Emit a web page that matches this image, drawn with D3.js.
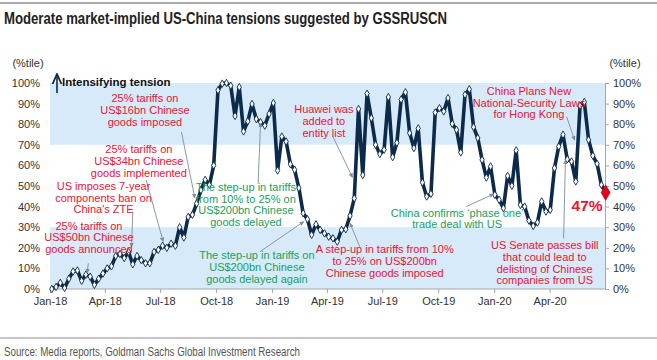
<!DOCTYPE html>
<html>
<head>
<meta charset="utf-8">
<script src="https://cdn.jsdelivr.net/npm/d3@7"></script>
<style>
  html, body { margin: 0; padding: 0; background: #fff; }
  svg { display: block; }
  text { font-family: "Liberation Sans", Arial, sans-serif; }
</style>
</head>
<body>
<svg id="chart" width="657" height="360"></svg>
<script>
// ---------------- DATA ----------------
const startDate = "2018-01-04";        // first weekly observation
const gssruscn = [
  0, 1, 3, 0.5, 5, 8.5, 9, 4, 7, 6,
  2, 5, 7.5, 10, 11, 16, 17, 15, 18, 12,
  16, 14, 12.5, 12.5, 18, 19, 21, 20, 22, 21,
  30, 25, 35, 36, 41.5, 48, 53, 50.5, 60, 96.5,
  99.7, 100, 98.7, 84, 98, 76.5, 81.4, 89.8, 82.5, 81,
  79.3, 85, 90.3, 57.5, 74, 71.6, 60.6, 57.9, 49, 36.8,
  33.9, 26.3, 31.4, 28.7, 27, 25.4, 24.6, 23, 28.7, 29,
  35.5, 44, 87.4, 55.3, 94.8, 83, 70, 65.5, 67.6, 93.2,
  64, 71, 92, 95.5, 75.7, 68.4, 78, 51.7, 44.9, 46.2,
  85.7, 87.8, 86.2, 92.7, 80.2, 77.3, 66.3, 94.3, 97, 78.6,
  73.3, 62.7, 54.1, 59.5, 45.7, 43.3, 39.2, 54.9, 50.1, 67.3,
  40.8, 40, 33.2, 30.6, 32.3, 42.5, 37.6, 38.4, 58.7, 69.2,
  74.9, 63, 61.9, 52.2, 89, 90.8, 72.4, 64.7, 60.8, 50.6,
  46.8
];
const xTickLabels = ["Jan-18","Apr-18","Jul-18","Oct-18","Jan-19","Apr-19","Jul-19","Oct-19","Jan-20","Apr-20"];
const yTicks = [0, 10, 20, 30, 40, 50, 60, 70, 80, 90, 100];
const bands = [[0, 30], [70, 100]];
const lastLabel = "47%";

const titleText = "Moderate market-implied US-China tensions suggested by GSSRUSCN";
const sourceText = "Source: Media reports, Goldman Sachs Global Investment Research";

// annotations: day = days after 2018-01-01, v = percentile level
const annotations = [
  { lines: ["25% tariffs on", "US$16bn Chinese", "goods imposed"], day: 156, v: 90.8, color: "red",
    from: [216.9, 76.2], to: [238.3, 44.2] },
  { lines: ["25% tariffs on", "US$34bn Chinese", "goods implemented"], day: 146, v: 66, color: "red",
    from: [158.9, 52.9], to: [186.2, 23.0] },
  { lines: ["US imposes 7-year", "components ban on", "China's ZTE"], day: 88.7, v: 48.2, color: "red",
    from: [136.9, 37.5], to: [134.2, 20.5] },
  { lines: ["25% tariffs on", "US$50bn Chinese", "goods announced"], day: 64, v: 28.8, color: "red",
    from: [63.6, 12.5], to: [61.6, 7.8] },
  { lines: ["The step-up in tariffs", "from 10% to 25% on", "US$200bn Chinese", "goods delayed"], day: 322, v: 47.7, color: "green",
    from: [342.3, 51.3], to: [346.2, 80.4] },
  { lines: ["The step-up in tariffs on", "US$200bn Chinese", "goods delayed again"], day: 340, v: 14.6, color: "green",
    from: [345, 18.1], to: [417.3, 32.7] },
  { lines: ["A step-up in tariffs from 10%", "to 25% on US$200bn", "Chinese goods imposed"], day: 550, v: 17.5, color: "red",
    from: [509.4, 20.5], to: [493, 31.9] },
  { lines: ["Huawei was", "added to", "entity list"], day: 450, v: 85.3, color: "red",
    from: [465.5, 73.9], to: [497.4, 54.2] },
  { lines: ["China confirms \u2018phase one\u2019", "trade deal with US"], day: 669, v: 35.1, color: "green",
    from: [684.7, 40], to: [729.5, 46.1] },
  { lines: ["China Plans New", "National-Security Laws", "for Hong Kong"], day: 787, v: 94.3, color: "red",
    from: [849, 83.6], to: [862.6, 72.3] },
  { lines: ["US Senate passes bill", "that could lead to", "delisting of Chinese", "companies from US"], day: 813, v: 19.4, color: "red",
    from: [844.6, 24.6], to: [847.9, 62.6] }
];

// ---------------- CHART ----------------
const W = 657, H = 360;
const svg = d3.select("#chart");
const colors = { red: "#ee1133", green: "#17a05d" };
const navy = "#0c2a4a";
const base = new Date(2018, 0, 1);
const dayToDate = d => d3.timeDay.offset(base, d);
const parseDay = d3.timeParse("%Y-%m-%d");
const t0 = parseDay(startDate);
const data = gssruscn.map((v, i) => ({ date: d3.timeDay.offset(t0, 7 * i), v }));

const x = d3.scaleTime().domain([new Date(2018, 0, 1), new Date(2020, 6, 1)]).range([50, 605]);
const y = d3.scaleLinear().domain([0, 100]).range([289, 83]);

// top rule
svg.append("line").attr("x1", 0).attr("x2", W).attr("y1", 3).attr("y2", 3)
  .attr("stroke", "#8c8c8c").attr("stroke-width", 1.5);
// title
svg.append("text").attr("x", 4).attr("y", 24)
  .attr("font-family", "'Liberation Sans Narrow', 'Liberation Sans', Arial, sans-serif")
  .attr("font-weight", "bold").attr("font-size", 16).attr("fill", "#222")
  .attr("textLength", 443).attr("lengthAdjust", "spacingAndGlyphs")
  .text(titleText);

// bands
svg.selectAll("rect.band").data(bands).join("rect").attr("class", "band")
  .attr("x", x.range()[0]).attr("width", x.range()[1] - x.range()[0])
  .attr("y", d => y(d[1])).attr("height", d => y(d[0]) - y(d[1]))
  .attr("fill", "#d7eafa");

// y axes labels
svg.append("text").attr("x", 28).attr("y", 67).attr("text-anchor", "middle")
  .attr("font-size", 11).attr("fill", "#333").text("(%tile)");
svg.append("text").attr("x", 625).attr("y", 67).attr("text-anchor", "middle")
  .attr("font-size", 11).attr("fill", "#333").text("(%tile)");

const fmtPct = d => d + "%";
const leftAxis = d3.axisLeft(y).tickValues(yTicks).tickFormat(fmtPct).tickSize(3).tickPadding(4);
const gl = svg.append("g").attr("transform", "translate(47,0)").call(leftAxis);
gl.select(".domain").remove();
gl.selectAll(".tick line").remove();
gl.selectAll("text").attr("font-family", "'Liberation Sans', Arial, sans-serif").attr("font-size", 11).attr("fill", "#333");

const rightAxis = d3.axisRight(y).tickValues(yTicks).tickFormat(fmtPct).tickSize(4).tickPadding(4);
const gr = svg.append("g").attr("transform", "translate(605,0)").call(rightAxis);
gr.select(".domain").attr("stroke", "#a6a6a6");
gr.selectAll(".tick line").attr("stroke", "#a6a6a6");
gr.selectAll("text").attr("font-family", "'Liberation Sans', Arial, sans-serif").attr("font-size", 11).attr("fill", "#333");

// x axis
const parseTick = d3.timeParse("%b-%y");
const xTicks = xTickLabels.map(parseTick);
const xAxis = d3.axisBottom(x).tickValues(xTicks).tickFormat(d3.timeFormat("%b-%y")).tickSize(4).tickPadding(4);
const gx = svg.append("g").attr("transform", "translate(0,289)").call(xAxis);
gx.select(".domain").attr("stroke", "#a6a6a6").attr("d", "M50,0H605");
gx.selectAll(".tick line").attr("stroke", "#a6a6a6");
gx.selectAll("text").attr("font-family", "'Liberation Sans', Arial, sans-serif").attr("font-size", 11).attr("fill", "#333");

// intensifying tension arrow
const defs = svg.append("defs");
defs.append("marker").attr("id", "ahBlack").attr("viewBox", "0 0 10 10").attr("refX", 9).attr("refY", 5)
  .attr("markerWidth", 7).attr("markerHeight", 7).attr("orient", "auto-start-reverse")
  .append("path").attr("d", "M0,1 L9,5 L0,9").attr("fill", "none").attr("stroke", "#0c2a4a").attr("stroke-width", 1.6);
defs.append("marker").attr("id", "ahGrey").attr("viewBox", "0 0 10 10").attr("refX", 9).attr("refY", 5)
  .attr("markerWidth", 5).attr("markerHeight", 5).attr("orient", "auto")
  .append("path").attr("d", "M0,0 L10,5 L0,10 Z").attr("fill", "#7d8c9c");

svg.append("line").attr("x1", 57).attr("x2", 57).attr("y1", 93).attr("y2", 74)
  .attr("stroke", "#0c2a4a").attr("stroke-width", 1.6).attr("marker-end", "url(#ahBlack)");
svg.append("text").attr("x", 62).attr("y", 86).attr("font-weight", "bold").attr("font-size", 11.5)
  .attr("fill", "#111").text("Intensifying tension");

// series line
const line = d3.line().x(d => x(d.date)).y(d => y(d.v));
svg.append("path").datum(data).attr("d", line).attr("fill", "none")
  .attr("stroke", navy).attr("stroke-width", 3.6).attr("stroke-linejoin", "round");
const diamond = d3.symbol().type(d3.symbolDiamond).size(16);
svg.selectAll("path.pt").data(data.slice(0, -1)).join("path").attr("class", "pt")
  .attr("transform", d => `translate(${x(d.date)},${y(d.v)})`)
  .attr("d", diamond).attr("fill", "#fff").attr("stroke", navy).attr("stroke-width", 0.9);
const last = data[data.length - 1];
svg.append("path").attr("transform", `translate(${x(last.date)},${y(last.v)})`)
  .attr("d", d3.symbol().type(d3.symbolDiamond).size(70)).attr("fill", "#e3001b").attr("stroke", "#b00012").attr("stroke-width", 0.6);
svg.append("text").attr("x", x(last.date) - 3).attr("y", y(last.v) + 18)
  .attr("text-anchor", "end").attr("font-weight", "bold").attr("font-size", 15.5)
  .attr("fill", "#ee1133").text(lastLabel);

// annotations
const ann = svg.append("g");
annotations.forEach(a => {
  ann.append("line")
    .attr("x1", x(dayToDate(a.from[0]))).attr("y1", y(a.from[1]))
    .attr("x2", x(dayToDate(a.to[0]))).attr("y2", y(a.to[1]))
    .attr("stroke", "#7d8c9c").attr("stroke-width", 0.9).attr("marker-end", "url(#ahGrey)");
  const t = ann.append("text").attr("text-anchor", "middle").attr("font-size", 11)
    .attr("fill", colors[a.color]);
  a.lines.forEach((l, i) => {
    t.append("tspan").attr("x", x(dayToDate(a.day))).attr("y", y(a.v) + i * 11.8).text(l);
  });
});

// bottom rule & source
svg.append("line").attr("x1", 0).attr("x2", W).attr("y1", 338).attr("y2", 338)
  .attr("stroke", "#8c8c8c").attr("stroke-width", 1);
svg.append("text").attr("x", 4).attr("y", 356)
  .attr("font-family", "'Liberation Sans Narrow', 'Liberation Sans', Arial, sans-serif")
  .attr("font-size", 12).attr("fill", "#555")
  .attr("textLength", 296).attr("lengthAdjust", "spacingAndGlyphs")
  .text(sourceText);
</script>
</body>
</html>
